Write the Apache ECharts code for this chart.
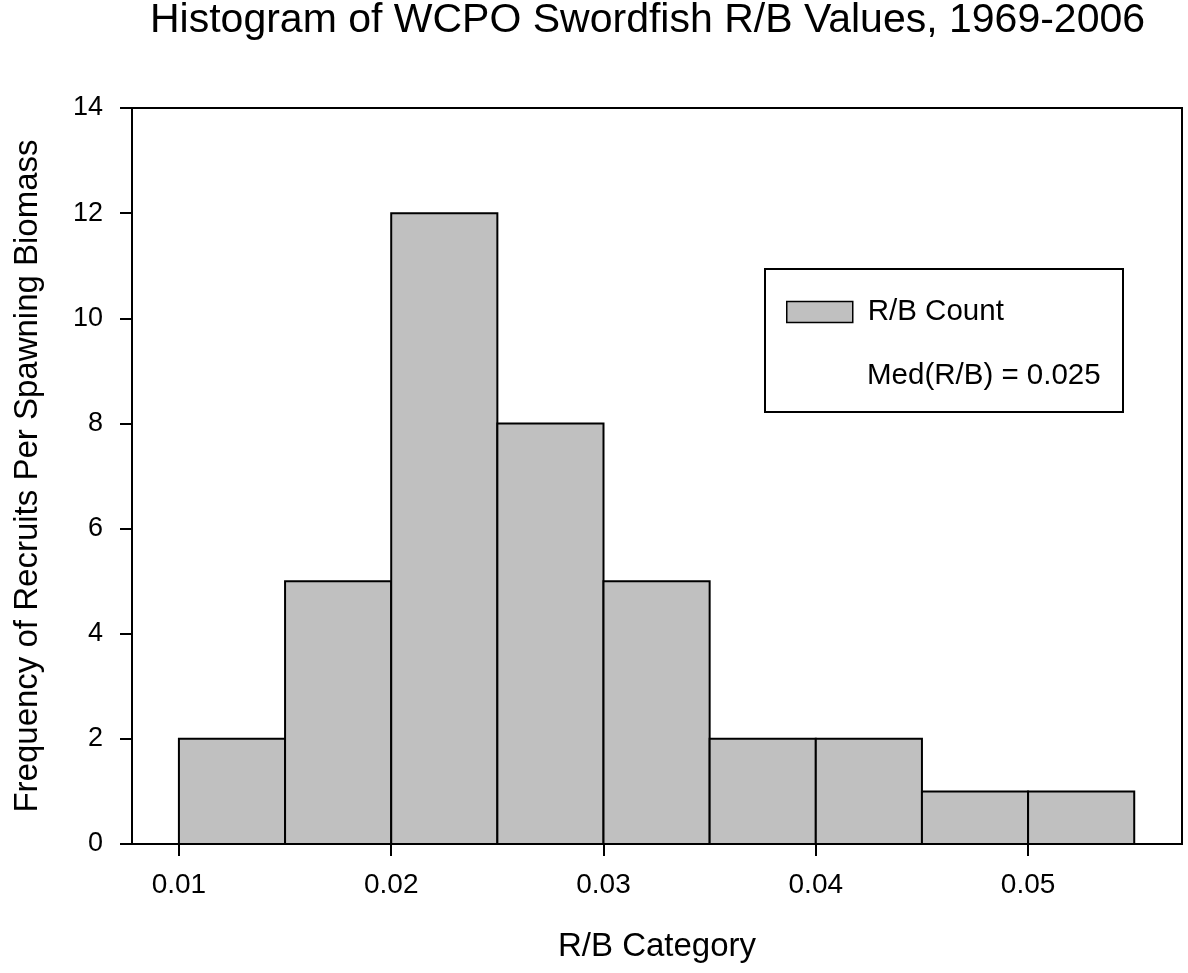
<!DOCTYPE html>
<html>
<head>
<meta charset="utf-8">
<script src="https://cdn.jsdelivr.net/npm/echarts@6/dist/echarts.min.js"></script>
<style>
html,body{margin:0;padding:0;background:#fff;}
#main{width:1188px;height:973px;}
</style>
</head>
<body>
<div id="main"></div>
<script>
// ---- Data ----
var binLower = [0.010, 0.015, 0.020, 0.025, 0.030, 0.035, 0.040, 0.045, 0.050];
var binUpper = [0.015, 0.020, 0.025, 0.030, 0.035, 0.040, 0.045, 0.050, 0.055];
var counts   = [2, 5, 12, 8, 5, 2, 2, 1, 1];
var xTickValues = [0.01, 0.02, 0.03, 0.04, 0.05];
var medianRB = '0.025';
var titleText = 'Histogram of WCPO Swordfish R/B Values, 1969-2006';
var xName = 'R/B Category';
var yName = 'Frequency of Recruits Per Spawning Biomass';
var seriesName = 'R/B Count';

var FONT = '"Liberation Sans", Arial, Helvetica, sans-serif';
var histData = binLower.map(function (lo, i) { return [lo, binUpper[i], counts[i]]; });

var chart = echarts.init(document.getElementById('main'), null, {renderer: 'canvas'});
chart.setOption({
  animation: false,
  backgroundColor: '#fff',
  title: {
    text: titleText,
    left: 150, top: 0, padding: 0,
    textStyle: {fontFamily: FONT, fontSize: 41, fontWeight: 'normal', color: '#000'}
  },
  grid: {
    left: 132, right: 6, top: 108, bottom: 129,
    show: true, borderColor: '#000', borderWidth: 2, backgroundColor: 'transparent'
  },
  legend: {
    data: [{name: seriesName, icon: 'rect'}],
    left: 786, top: 297, padding: 0, z: 10,
    itemWidth: 66, itemHeight: 21, itemGap: 10,
    itemStyle: {color: '#c0c0c0', borderColor: '#000', borderWidth: 1.5},
    textStyle: {fontFamily: FONT, fontSize: 29.5, color: '#000', padding: [0, 0, 0, 10]},
    selectedMode: false
  },
  xAxis: {
    type: 'value', min: 0.00779, max: 0.05725,
    name: xName, nameLocation: 'middle', nameGap: 86,
    nameTextStyle: {fontFamily: FONT, fontSize: 33, color: '#000'},
    axisLine: {show: true, onZero: false, lineStyle: {color: '#000', width: 2}},
    axisTick: {show: true, inside: false, length: 12, customValues: xTickValues, lineStyle: {color: '#000', width: 2}},
    axisLabel: {customValues: xTickValues, margin: 27, fontFamily: FONT, fontSize: 28, color: '#000',
      formatter: function (v) { return v.toFixed(2); }},
    splitLine: {show: false}
  },
  yAxis: {
    type: 'value', min: 0, max: 14, interval: 2,
    name: yName, nameLocation: 'middle', nameGap: 88, nameRotate: 90,
    nameTextStyle: {fontFamily: FONT, fontSize: 33, color: '#000'},
    axisLine: {show: true, lineStyle: {color: '#000', width: 2}},
    axisTick: {show: true, inside: false, length: 12, lineStyle: {color: '#000', width: 2}},
    axisLabel: {margin: 29, fontFamily: FONT, fontSize: 27, color: '#000'},
    splitLine: {show: false}
  },
  graphic: [
    {type: 'rect', z: 3, shape: {x: 765, y: 269, width: 358, height: 143},
     style: {fill: '#fff', stroke: '#000', lineWidth: 2}},
    {type: 'text', z: 100, x: 867, y: 376,
     style: {text: 'Med(R/B) = ' + medianRB, fontFamily: FONT, fontSize: 29.5, fill: '#000', verticalAlign: 'middle'}}
  ],
  series: [{
    type: 'custom',
    name: seriesName,
    itemStyle: {color: '#c0c0c0'},
    encode: {x: [0, 1], y: 2},
    data: histData,
    renderItem: function (params, api) {
      var p0 = api.coord([api.value(0), api.value(2)]);
      var p1 = api.coord([api.value(1), 0]);
      return {
        type: 'rect',
        shape: {x: p0[0], y: p0[1], width: p1[0] - p0[0], height: p1[1] - p0[1]},
        style: {fill: '#c0c0c0', stroke: '#000', lineWidth: 2}
      };
    }
  }]
});
</script>
</body>
</html>
